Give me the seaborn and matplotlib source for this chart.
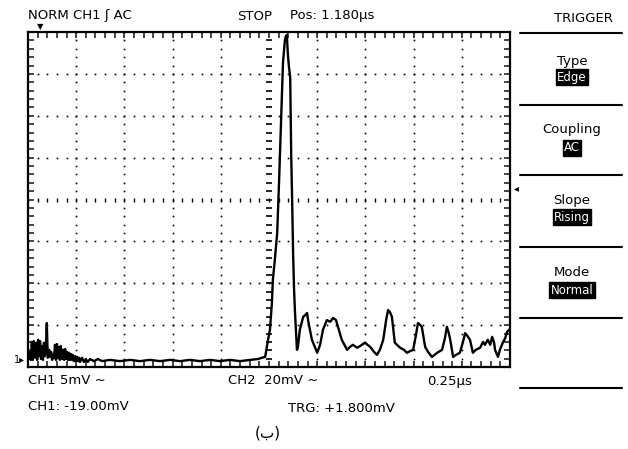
import numpy as np
import pandas as pd
import matplotlib
matplotlib.use('Agg')
import matplotlib.pyplot as plt
import seaborn as sns

# --- trace, in divisions (x: 0..10 div, y: -4..4 div) ---
# noise burst at the left, then flat baseline
t_noise = [0.02, 0.04, 0.06, 0.08, 0.10, 0.12, 0.15, 0.17, 0.19, 0.21,
           0.23, 0.25, 0.27, 0.29, 0.31, 0.33, 0.35, 0.37, 0.39, 0.41,
           0.44, 0.46, 0.48, 0.50, 0.52, 0.54, 0.56, 0.58, 0.60, 0.62,
           0.64, 0.66, 0.68, 0.71, 0.73, 0.75, 0.77, 0.79, 0.81, 0.83,
           0.85, 0.87, 0.89, 0.91, 0.93, 0.95, 0.98, 1.00, 1.02, 1.04,
           1.06, 1.08, 1.12, 1.16, 1.20, 1.24, 1.29, 1.37, 1.45, 1.54,
           1.70, 1.91, 2.12, 2.32, 2.53, 2.74, 2.95, 3.15, 3.36, 3.57,
           3.78, 3.98, 4.19, 4.40, 4.61, 4.77, 4.85]
v_noise = [-3.78, -3.64, -3.83, -3.40, -3.83, -3.38, -3.78, -3.42, -3.83, -3.35,
           -3.74, -3.38, -3.81, -3.50, -3.83, -3.42, -3.74, -3.59, -2.95, -3.78,
           -3.59, -3.76, -3.64, -3.83, -3.71, -3.78, -3.47, -3.83, -3.45, -3.78,
           -3.52, -3.83, -3.50, -3.81, -3.59, -3.83, -3.57, -3.81, -3.64, -3.83,
           -3.66, -3.83, -3.69, -3.83, -3.71, -3.86, -3.74, -3.86, -3.76, -3.86,
           -3.78, -3.88, -3.78, -3.88, -3.81, -3.88, -3.81, -3.86, -3.81, -3.86,
           -3.83, -3.86, -3.83, -3.86, -3.83, -3.86, -3.83, -3.86, -3.83, -3.86,
           -3.83, -3.86, -3.83, -3.86, -3.83, -3.81, -3.78]

# main pulse and the ringing after it
t_pulse = [4.92, 4.98, 5.02, 5.06, 5.08, 5.12, 5.17, 5.21, 5.23, 5.25,
           5.29, 5.33, 5.35, 5.37, 5.39, 5.41, 5.44, 5.46, 5.48, 5.50,
           5.52, 5.54, 5.58, 5.60, 5.64, 5.71, 5.75, 5.79, 5.81, 5.85,
           5.89, 6.00, 6.06, 6.12, 6.20, 6.27, 6.33, 6.39, 6.43, 6.51,
           6.62, 6.68, 6.74, 6.83, 6.89, 6.99, 7.10, 7.18, 7.24, 7.30,
           7.37, 7.43, 7.47, 7.51, 7.55, 7.61, 7.72, 7.80, 7.86, 7.93,
           7.99, 8.05, 8.09, 8.13, 8.17, 8.24, 8.30, 8.38, 8.49, 8.59,
           8.65, 8.69, 8.73, 8.76, 8.82, 8.88, 8.96, 9.02, 9.07, 9.13,
           9.17, 9.23, 9.29, 9.38, 9.44, 9.48, 9.54, 9.59, 9.63, 9.67,
           9.69, 9.75, 9.79, 9.85, 9.90, 9.94, 9.98]
v_pulse = [-3.76, -3.35, -3.11, -2.47, -1.92, -1.45, -0.80, 0.47, 1.18, 1.90,
           3.26, 3.81, 3.90, 3.93, 3.50, 3.21, 2.92, 1.11, -0.01, -1.28,
           -2.16, -2.71, -3.59, -3.52, -3.11, -2.80, -2.76, -2.71, -2.88, -3.11,
           -3.35, -3.66, -3.47, -3.11, -2.88, -2.92, -2.83, -2.88, -3.04, -3.35,
           -3.59, -3.52, -3.47, -3.54, -3.50, -3.42, -3.52, -3.64, -3.71, -3.59,
           -3.35, -2.88, -2.64, -2.69, -2.80, -3.42, -3.54, -3.59, -3.66, -3.62,
           -3.59, -3.23, -2.95, -2.99, -3.04, -3.52, -3.64, -3.76, -3.66, -3.59,
           -3.31, -3.04, -3.19, -3.35, -3.76, -3.71, -3.66, -3.42, -3.19, -3.28,
           -3.35, -3.66, -3.59, -3.54, -3.40, -3.47, -3.35, -3.47, -3.28, -3.42,
           -3.59, -3.76, -3.59, -3.42, -3.31, -3.16, -3.11]

trace = pd.DataFrame({'t': t_noise + t_pulse, 'v': v_noise + v_pulse})

top_labels = ['NORM CH1 ʃ AC', 'STOP', 'Pos: 1.180µs']
bottom_labels = ['CH1 5mV ∼', 'CH2  20mV ∼', '0.25µs', 'CH1: -19.00mV', 'TRG: +1.800mV']
menu_titles = ['Type', 'Coupling', 'Slope', 'Mode']
menu_values = ['Edge', 'AC', 'Rising', 'Normal']

sns.set_style('white')
plt.rcParams['font.family'] = ['DejaVu Sans']
plt.rcParams['text.color'] = 'black'

W, H = 628, 449
fig = plt.figure(figsize=(W / 100, H / 100), dpi=100)
ax = fig.add_axes([28 / W, 1 - 367 / H, (510 - 28) / W, (367 - 32) / H])

def fx(px):
    return px / W

def fy(py):
    return 1 - py / H

# dotted graticule
for gx in range(1, 10):
    if gx == 5:
        continue
    ys = np.arange(-4, 4.01, 0.2)
    ax.plot([gx] * len(ys), ys, ls='none', marker='s', ms=1.2, mew=0, color='black')
for gy in range(-3, 4):
    if gy == 0:
        continue
    xs = np.arange(0, 10.01, 0.2)
    ax.plot(xs, [gy] * len(xs), ls='none', marker='s', ms=1.2, mew=0, color='black')

# centre cross with sub-division ticks
yc = np.arange(-4, 4.01, 0.2)
ax.plot([5] * len(yc), yc, ls='none', marker='_', ms=5, mew=1.2, color='black')
xc = np.arange(0, 10.01, 0.2)
ax.plot(xc, [0] * len(xc), ls='none', marker='|', ms=3, mew=1.0, color='black')

sns.lineplot(data=trace, x='t', y='v', ax=ax, color='black', linewidth=1.7,
             sort=False, estimator=None)

ax.set_xlim(0, 10)
ax.set_ylim(-4, 4)
ax.set_xlabel('')
ax.set_ylabel('')
ax.set_xticks(np.arange(0, 10.01, 0.2))
ax.set_yticks(np.arange(-4, 4.01, 0.2))
ax.tick_params(direction='in', length=4, width=1.2, top=True, right=True,
               bottom=True, left=True, labelbottom=False, labelleft=False)
for s in ax.spines.values():
    s.set_visible(True)
    s.set_linewidth(1.6)
    s.set_color('black')

# screen markers
fig.text(fx(14), fy(360), '1▸', fontsize=7, va='center', ha='left')
fig.text(fx(40), fy(27), '▼', fontsize=6, va='center', ha='center')
fig.text(fx(516), fy(188), '◂', fontsize=7, va='center', ha='center')

# header
fig.text(fx(28), fy(16), top_labels[0], fontsize=9.5, va='center', ha='left')
fig.text(fx(237), fy(16), top_labels[1], fontsize=9.5, va='center', ha='left')
fig.text(fx(290), fy(16), top_labels[2], fontsize=9.5, va='center', ha='left')

# footer
fig.text(fx(28), fy(381), bottom_labels[0], fontsize=9.5, va='center', ha='left')
fig.text(fx(228), fy(381), bottom_labels[1], fontsize=9.5, va='center', ha='left')
fig.text(fx(427), fy(381), bottom_labels[2], fontsize=9.5, va='center', ha='left')
fig.text(fx(28), fy(406), bottom_labels[3], fontsize=9.5, va='center', ha='left')
fig.text(fx(288), fy(408), bottom_labels[4], fontsize=9.5, va='center', ha='left')
fig.text(fx(268), fy(433), '(ب)', fontsize=11, va='center', ha='center')

# trigger menu on the right
fig.text(fx(583), fy(18), 'TRIGGER', fontsize=9.5, va='center', ha='center')
for py in [33, 105, 175, 247, 318, 388]:
    fig.add_artist(plt.Line2D([fx(520), fx(622)], [fy(py), fy(py)],
                              color='black', linewidth=1.5))
title_y = [61, 130, 200, 272]
value_y = [77, 148, 217, 290]
for name, val, ty, vy in zip(menu_titles, menu_values, title_y, value_y):
    fig.text(fx(572), fy(ty), name, fontsize=9.5, va='center', ha='center')
    fig.text(fx(572), fy(vy), val, fontsize=8.5, va='center', ha='center', color='white',
             bbox=dict(boxstyle='square,pad=0.1', facecolor='black', edgecolor='black'))

fig.savefig('out.png', dpi=100, facecolor='white')
